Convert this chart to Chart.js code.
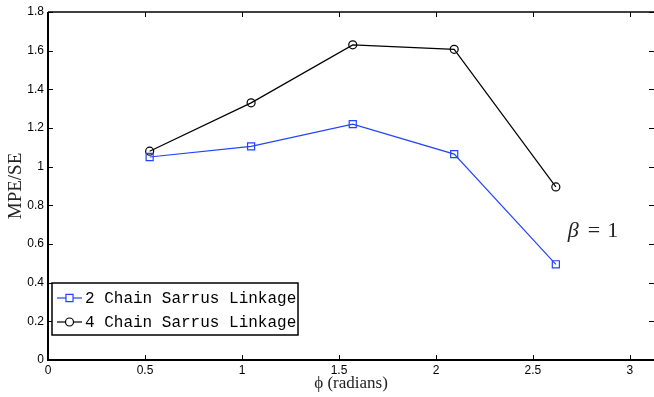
<!DOCTYPE html>
<html>
<head>
<meta charset="utf-8">
<script src="https://cdn.jsdelivr.net/npm/chart.js@4/dist/chart.umd.min.js"></script>
<style>
  html, body { margin: 0; padding: 0; background: #fff; }
  #wrap { width: 654px; height: 397px; }
</style>
</head>
<body>
<div id="wrap"><canvas id="mpeChart"></canvas></div>
<script>
// phi in radians (pi/6 .. 5pi/6)
const phi = [0.524, 1.047, 1.571, 2.094, 2.618];
const twoChain = [1.05, 1.105, 1.22, 1.065, 0.495];
const fourChain = [1.08, 1.33, 1.63, 1.607, 0.895];
const seriesNames = ["2 Chain Sarrus Linkage", "4 Chain Sarrus Linkage"];
const xTicks = [0, 0.5, 1, 1.5, 2, 2.5, 3];
const yTicks = [0, 0.2, 0.4, 0.6, 0.8, 1, 1.2, 1.4, 1.6, 1.8];

const blue = "#2244ff";

const pairs = (ys) => phi.map((x, i) => ({ x: x, y: ys[i] }));

// inward ticks on all sides, box, beta note and legend
const frame = {
  id: "frame",
  afterDraw(chart) {
    const ctx = chart.ctx;
    const a = chart.chartArea;
    const sx = chart.scales.x, sy = chart.scales.y;
    ctx.save();
    ctx.strokeStyle = "#000";
    ctx.lineWidth = 1;
    xTicks.forEach((v) => {
      const px = Math.round(sx.getPixelForValue(v)) + 0.5;
      ctx.beginPath();
      ctx.moveTo(px, a.bottom); ctx.lineTo(px, a.bottom - 5);
      ctx.moveTo(px, a.top); ctx.lineTo(px, a.top + 5);
      ctx.stroke();
    });
    yTicks.forEach((v) => {
      const py = Math.round(sy.getPixelForValue(v)) + 0.5;
      ctx.beginPath();
      ctx.moveTo(a.left, py); ctx.lineTo(a.left + 5, py);
      ctx.moveTo(a.right, py); ctx.lineTo(a.right - 5, py);
      ctx.stroke();
    });
    ctx.lineWidth = 2;
    ctx.beginPath();
    ctx.moveTo(a.left, a.top); ctx.lineTo(a.left, a.bottom); ctx.lineTo(a.right, a.bottom);
    ctx.stroke();
    ctx.lineWidth = 1.5;
    ctx.beginPath();
    ctx.moveTo(a.left, a.top); ctx.lineTo(a.right, a.top);
    ctx.stroke();

    // beta label
    let bx = sx.getPixelForValue(2.68);
    const by = sy.getPixelForValue(0.636);
    ctx.fillStyle = "#222";
    ctx.textBaseline = "alphabetic";
    ctx.textAlign = "left";
    ctx.font = "italic 22px 'Liberation Serif'";
    ctx.fillText("β", bx, by);
    bx += ctx.measureText("β").width + 9;
    ctx.font = "22px 'Liberation Serif'";
    ctx.fillText("=", bx, by);
    bx += ctx.measureText("=").width + 7;
    ctx.fillText("1", bx, by);

    // legend box
    const lx = a.left + 4, ly = a.bottom - 77, lw = 246, lh = 52;
    ctx.fillStyle = "#fff";
    ctx.fillRect(lx, ly, lw, lh);
    ctx.lineWidth = 1.5;
    ctx.strokeStyle = "#000";
    ctx.strokeRect(lx, ly, lw, lh);
    chart.data.datasets.forEach((ds, i) => {
      const ry = ly + 15 + i * 24;
      ctx.strokeStyle = ds.borderColor;
      ctx.lineWidth = 1.2;
      ctx.beginPath();
      ctx.moveTo(lx + 5, ry); ctx.lineTo(lx + 30, ry);
      ctx.stroke();
      ctx.fillStyle = "#fff";
      Chart.helpers.drawPoint(ctx, {
        pointStyle: ds.pointStyle, radius: ds.pointRadius,
        rotation: 0, borderWidth: 1.2
      }, lx + 17.5, ry);
      ctx.fillStyle = "#000";
      ctx.font = "16px 'Liberation Mono'";
      ctx.textBaseline = "middle";
      ctx.fillText(ds.label, lx + 33, ry + 1);
    });
    ctx.restore();
  }
};

new Chart(document.getElementById("mpeChart"), {
  type: "line",
  data: {
    datasets: [
      {
        label: seriesNames[0],
        data: pairs(twoChain),
        borderColor: blue,
        backgroundColor: "rgba(0,0,0,0)",
        borderWidth: 1.2,
        pointStyle: "rect",
        pointRadius: 5,
        pointBorderWidth: 1.2,
        tension: 0
      },
      {
        label: seriesNames[1],
        data: pairs(fourChain),
        borderColor: "#000",
        backgroundColor: "rgba(0,0,0,0)",
        borderWidth: 1.2,
        pointStyle: "circle",
        pointRadius: 4,
        pointBorderWidth: 1.2,
        tension: 0
      }
    ]
  },
  options: {
    responsive: true,
    maintainAspectRatio: false,
    animation: false,
    layout: { autoPadding: false, padding: { top: 12, right: 0, left: 0, bottom: 0 } },
    plugins: { legend: { display: false }, tooltip: { enabled: false } },
    scales: {
      x: {
        type: "linear",
        min: 0,
        max: 3.124,
        grid: { display: false, drawTicks: false },
        border: { display: false },
        afterFit(s) { s.height = 37; s.paddingLeft = 0; s.paddingRight = 0; },
        afterBuildTicks(s) { s.ticks = xTicks.map((v) => ({ value: v })); },
        ticks: {
          padding: 3,
          color: "#000",
          font: { family: "'Liberation Sans'", size: 12 },
          callback: (v) => String(v)
        },
        title: {
          display: true,
          text: "ϕ (radians)",
          color: "#222",
          font: { family: "'Liberation Serif'", size: 17 },
          padding: { top: 0, bottom: 3 }
        }
      },
      y: {
        min: 0,
        max: 1.8,
        grid: { display: false, drawTicks: false },
        border: { display: false },
        afterFit(s) { s.width = 48; s.paddingTop = 0; s.paddingBottom = 0; },
        afterBuildTicks(s) { s.ticks = yTicks.map((v) => ({ value: v })); },
        ticks: {
          padding: 4,
          color: "#000",
          font: { family: "'Liberation Sans'", size: 12 },
          callback: (v) => String(Math.round(v * 10) / 10)
        },
        title: {
          display: true,
          text: "MPE/SE",
          color: "#222",
          font: { family: "'Liberation Serif'", size: 19 },
          padding: { top: 5, bottom: 0 }
        }
      }
    }
  },
  plugins: [frame]
});
</script>
</body>
</html>
